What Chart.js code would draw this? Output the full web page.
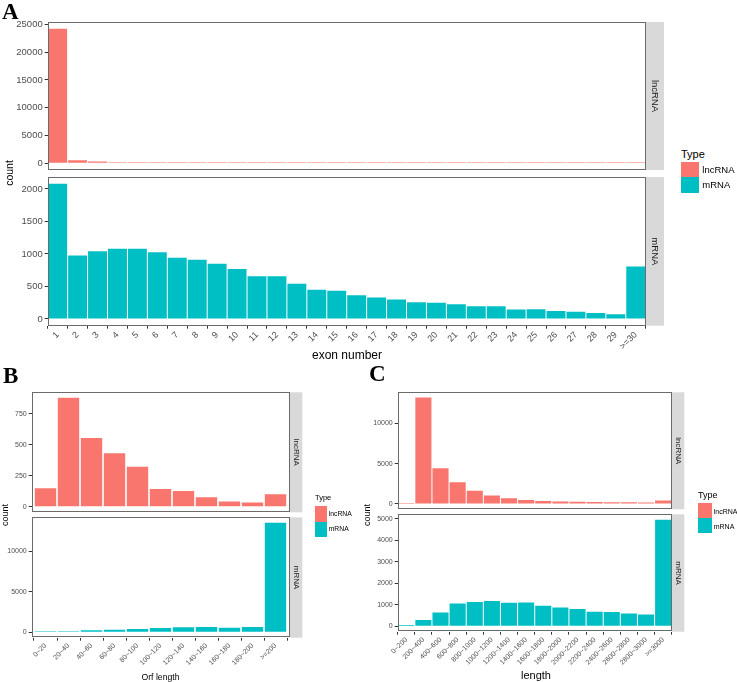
<!DOCTYPE html>
<html>
<head>
<meta charset="utf-8">
<script src="https://cdn.jsdelivr.net/npm/chart.js@4.4.1/dist/chart.umd.min.js"></script>
<style>
body{margin:0;background:#fff;width:737px;height:682px;position:relative;overflow:hidden;font-family:"Liberation Sans",Arial,sans-serif}
.box{position:absolute}
.t{position:absolute;white-space:nowrap;color:#000;line-height:1}
.sw{position:absolute}
.letter{font-family:"Liberation Serif","Times New Roman",serif;font-weight:bold;font-size:23px}
</style>
</head>
<body>
<script>
// panel A - exon number
const exonLabels=['1','2','3','4','5','6','7','8','9','10','11','12','13','14','15','16','17','18','19','20','21','22','23','24','25','26','27','28','29','>=30']
const exonLnc=[24200,560,330,200,140,110,90,80,70,65,60,55,50,48,45,42,40,38,36,34,32,30,28,26,24,22,20,18,16,60]
const exonMrna=[2080,975,1040,1080,1080,1025,940,910,850,770,655,655,540,450,435,365,330,300,255,250,225,195,195,145,148,122,112,92,72,805]

// panel B - orf length
const orfLabels=['0~20','20~40','40~60','60~80','80~100','100~120','120~140','140~160','160~180','180~200','>=200']
const orfLnc=[149,878,555,432,323,144,128,77,43,35,101]
const orfMrna=[60,90,230,320,400,520,600,640,540,640,13500]

// panel C - length
const lenLabels=['0~200','200~400','400~600','600~800','800~1000','1000~1200','1200~1400','1400~1600','1600~1800','1800~2000','2000~2200','2200~2400','2400~2600','2600~2800','2800~3000','>=3000']
const lenLnc=[50,13200,4440,2690,1640,1040,710,500,380,300,270,250,220,200,195,430]
const lenMrna=[62,293,648,1065,1127,1173,1096,1111,957,880,802,679,664,602,556,4954]

const colLnc='#F8766D', colMrna='#00BFC4'
Chart.defaults.font.family='"Liberation Sans", Arial, sans-serif'

// frame round the panel + grey strip on the right
const stripPlugin={
  id:'strip',
  afterDraw(c,args,o){
    const a=c.chartArea, ctx=c.ctx
    ctx.save()
    ctx.fillStyle='#d9d9d9'
    ctx.fillRect(a.right,a.top,o.w,a.bottom-a.top)
    ctx.strokeStyle='#6b6b6b'
    ctx.lineWidth=1
    ctx.strokeRect(Math.round(a.left)+0.5,Math.round(a.top)+0.5,Math.round(a.right-a.left)-1,Math.round(a.bottom-a.top)-1)
    ctx.translate(a.right+o.w/2,(a.top+a.bottom)/2)
    ctx.rotate(Math.PI/2)
    ctx.fillStyle='#1a1a1a'
    ctx.font=o.fs+'px "Liberation Sans", Arial, sans-serif'
    ctx.textAlign='center'
    ctx.textBaseline='middle'
    ctx.fillText(o.text,0,0)
    ctx.restore()
  }
}

function panel(box,plot,labels,values,color,o){
  let div=document.createElement('div')
  div.className='box'
  div.style.left=box[0]+'px'
  div.style.top=box[1]+'px'
  let cv=document.createElement('canvas')
  cv.width=box[2]; cv.height=box[3]
  cv.style.width=box[2]+'px'; cv.style.height=box[3]+'px'
  div.appendChild(cv)
  document.body.appendChild(div)
  let yw=plot[0]-box[0], padTop=plot[1]-box[1], padRight=box[0]+box[2]-plot[2], xh=box[1]+box[3]-plot[3]
  let maxV=Math.max(...values)
  let yTicks=[]
  for(let v=0;v<=maxV*1.05;v+=o.step) yTicks.push({value:v})
  let xTicks=labels.map((l,i)=>({value:i+1}))
  return new Chart(cv,{
    type:'bar',
    data:{datasets:[{
      data:values.map((v,i)=>({x:i+1,y:v})),
      backgroundColor:color,
      borderWidth:0,
      barPercentage:o.bar,
      categoryPercentage:1,
      minBarLength:1
    }]},
    options:{
      responsive:false,
      animation:false,
      layout:{padding:{top:padTop,right:padRight,left:0,bottom:0}},
      plugins:{legend:{display:false},tooltip:{enabled:false},strip:{text:o.strip,w:o.sw,fs:o.sfs}},
      scales:{
        x:{
          type:'linear',min:1-o.pad,max:labels.length+o.pad,offset:false,
          afterBuildTicks:s=>{s.ticks=xTicks},
          afterFit:s=>{s.height=xh},
          ticks:{display:o.showX,autoSkip:false,maxRotation:45,minRotation:45,
            color:'#4d4d4d',font:{size:o.fx},padding:1,callback:v=>labels[Math.round(v)-1]},
          grid:{display:o.showX,drawOnChartArea:false,drawTicks:true,tickLength:3,color:'#333'},
          border:{display:false}
        },
        y:{
          min:-0.05*maxV,max:1.05*maxV,
          afterBuildTicks:s=>{s.ticks=yTicks},
          afterFit:s=>{s.width=yw},
          ticks:{color:'#4d4d4d',font:{size:o.fy},padding:2,callback:v=>String(v)},
          grid:{drawOnChartArea:false,drawTicks:true,tickLength:3,color:'#333'},
          border:{display:false}
        }
      }
    },
    plugins:[stripPlugin]
  })
}

function txt(s,x,y,size,extra){
  let d=document.createElement('div')
  d.className='t'
  d.textContent=s
  d.style.left=x+'px'
  d.style.top=y+'px'
  d.style.fontSize=size+'px'
  d.style.transform='translate(-50%,-50%)'+(extra||'')
  document.body.appendChild(d)
  return d
}
function left(s,x,y,size,cls){
  let d=document.createElement('div')
  d.className='t'+(cls?' '+cls:'')
  d.textContent=s
  d.style.left=x+'px'
  d.style.top=y+'px'
  if(size)d.style.fontSize=size+'px'
  d.style.transform='translateY(-50%)'
  document.body.appendChild(d)
}
function swatch(x,y,w,h,c){
  let d=document.createElement('div')
  d.className='sw'
  d.style.cssText+='left:'+x+'px;top:'+y+'px;width:'+w+'px;height:'+h+'px;background:'+c
  document.body.appendChild(d)
}
function legend(x,y,w,h,fsT,fsL,gap){
  left('Type',x,y,fsT)
  swatch(x,y+8,w,h,colLnc)
  swatch(x,y+8+h,w,h,colMrna)
  left('lncRNA',x+w+gap,y+8+h/2,fsL)
  left('mRNA',x+w+gap,y+8+h*1.5,fsL)
}

// A
panel([0,10,668,170],[47.7,22,645.7,170],exonLabels,exonLnc,colLnc,{pad:0.5,bar:0.95,step:5000,showX:false,fx:9,fy:9.5,strip:'lncRNA',sw:18.3,sfs:9.5})
panel([0,165,668,200],[47.7,177,645.7,325.7],exonLabels,exonMrna,colMrna,{pad:0.5,bar:0.95,step:500,showX:true,fx:9,fy:9.5,strip:'mRNA',sw:18.3,sfs:9.5})
// B
panel([0,380,305,142],[31.7,392.3,289.3,512.3],orfLabels,orfLnc,colLnc,{pad:0.6,bar:0.93,step:250,showX:false,fx:7,fy:7,strip:'lncRNA',sw:13,sfs:8})
panel([0,505,305,177],[31.7,517.3,289.3,637.7],orfLabels,orfMrna,colMrna,{pad:0.6,bar:0.93,step:5000,showX:true,fx:7,fy:7,strip:'mRNA',sw:13,sfs:8})
// C
panel([370,380,318,139],[397.7,392.3,671.7,509.3],lenLabels,lenLnc,colLnc,{pad:0.5,bar:0.94,step:5000,showX:false,fx:7,fy:7,strip:'lncRNA',sw:12.6,sfs:8})
panel([370,502,318,180],[397.7,514.3,671.7,631.7],lenLabels,lenMrna,colMrna,{pad:0.5,bar:0.94,step:1000,showX:true,fx:7,fy:7,strip:'mRNA',sw:12.6,sfs:8})

// titles and letters
left('A',2,11,null,'letter')
left('B',3,375,null,'letter')
left('C',369,373,null,'letter')
txt('exon number',347,355,12)
txt('count',9,173,10.5,' rotate(-90deg)')
txt('Orf length',160.5,676.5,8.7)
txt('count',5,515,9,' rotate(-90deg)')
txt('length',536,675,11)
txt('count',367,515,9,' rotate(-90deg)')

// legends
legend(681,154,18.3,15.4,11,9.5,3)
legend(315,498,11.7,15.5,7.5,6.8,2)
legend(698,495,13.7,15,9,7,2)
</script>
</body>
</html>
